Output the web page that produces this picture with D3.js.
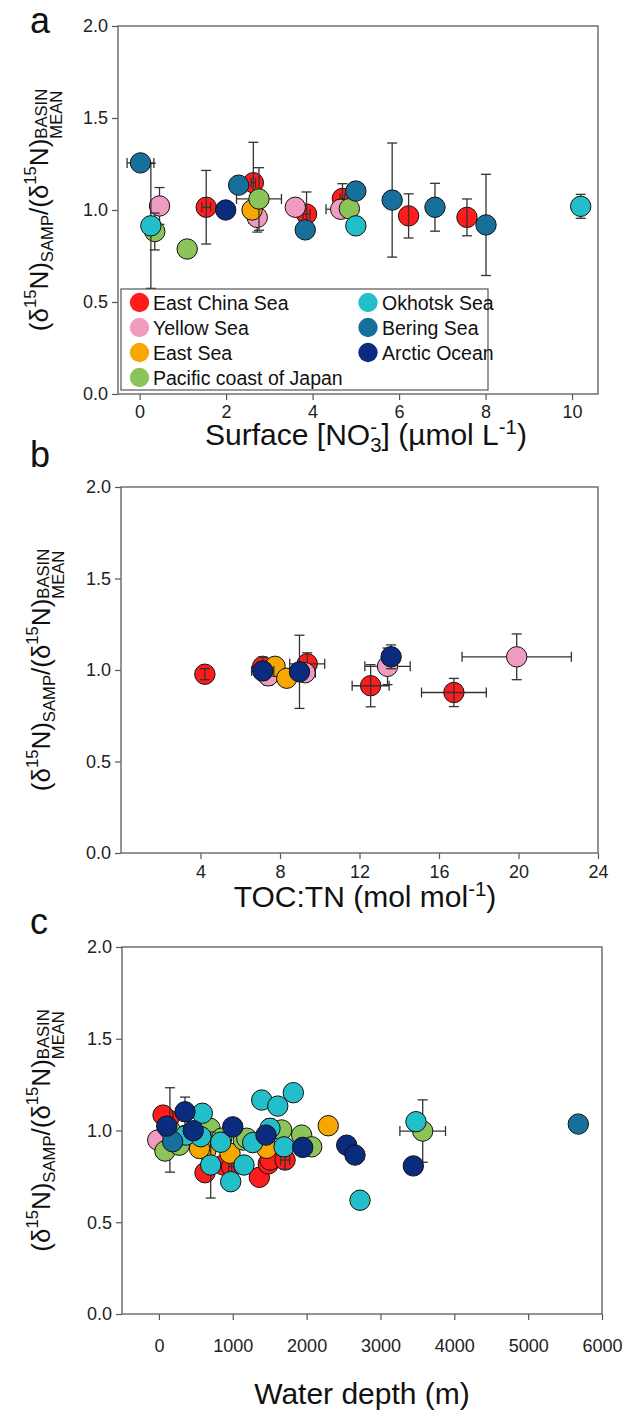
<!DOCTYPE html>
<html><head><meta charset="utf-8">
<script src="https://cdn.jsdelivr.net/npm/d3@7"></script>
<style>body{margin:0;background:#fff} svg{display:block}</style>
</head><body>
<script>
// ---------- DATA ----------
const regions = ["East China Sea","Yellow Sea","East Sea","Pacific coast of Japan","Okhotsk Sea","Bering Sea","Arctic Ocean"];
const regionColors = ["#ff1c1c","#f09bc0","#f8a602","#8cc45a","#22bfcb","#17709c","#0a2b7e"];
const yTicks = [0.0,0.5,1.0,1.5,2.0];

// Panel a: surface nitrate (µmol/L)
const nitrateTicks = [0,2,4,6,8,10];
const aRegion = [5,1,4,3,3,0,6,5,0,3,2,1,1,0,5,0,1,3,5,4,5,0,5,0,5,4];
const aX      = [0.02,0.46,0.26,0.35,1.10,1.54,1.99,2.29,2.63,2.76,2.60,2.72,3.60,3.86,3.83,4.69,4.65,4.85,5.00,5.00,5.84,6.22,6.83,7.57,8.01,10.20];
const aY      = [1.256,1.022,0.914,0.883,0.788,1.015,1.000,1.135,1.148,1.060,1.000,0.960,1.015,0.978,0.892,1.063,1.004,1.007,1.103,0.914,1.054,0.968,1.015,0.960,0.919,1.020];
const aXErr   = [0.31,0,0,0,0,0.10,0,0,0.05,0.52,0,0,0,0.08,0,0.05,0.34,0,0,0,0,0,0.08,0,0,0];
const aYErr   = [0,0.10,0.34,0.10,0,0.20,0,0,0.22,0.17,0,0.08,0,0.12,0,0.08,0,0,0,0,0.31,0.12,0.13,0.10,0.275,0.065];

// Panel b: TOC:TN (mol/mol)
const tocTicks = [4,8,12,16,20,24];
const bRegion = [0,0,1,2,6,2,6,1,0,0,1,6,0,1];
const bX      = [4.22,7.13,7.41,7.75,7.13,8.34,8.98,9.26,9.37,12.56,13.41,13.59,16.75,19.91];
const bY      = [0.977,1.020,0.968,1.020,0.995,0.955,0.990,0.985,1.034,0.914,1.020,1.072,0.877,1.072];
const bXErr   = [0,0,0,0,0.56,0,0,0.52,0.88,0.93,1.14,0,1.63,2.75];
const bYErr   = [0.03,0.05,0.05,0,0.05,0,0.20,0,0.06,0.115,0.10,0.065,0.077,0.125];

// Panel c: water depth (m)
const depthTicks = [0,1000,2000,3000,4000,5000,6000];
const cRegion = [0,0,0,0,0,0,0,0,0,
                 1,
                 2,2,2,2,2,
                 3,3,3,3,3,3,3,3,3,3,3,
                 4,4,4,4,4,4,4,4,4,4,4,4,4,4,4,
                 5,5,
                 6,6,6,6,6,6,6,6,6];
const cX = [127,56,624,872,985,1360,1481,1504,1708,
            -16,
            637,962,1459,2293,550,
            82,276,149,692,850,1143,1189,1662,1933,2069,3572,
            366,588,569,701,837,972,1152,1270,1392,1609,1820,1504,1694,3481,2723,
            186,5679,
            105,353,465,1000,1450,1947,2543,2655,3445];
const cY = [1.058,1.084,0.770,0.812,0.803,0.745,0.818,0.839,0.839,
            0.948,
            0.893,0.876,0.903,1.026,0.902,
            0.888,0.920,1.003,1.012,0.958,0.948,0.958,1.003,0.975,0.911,0.997,
            0.975,1.094,0.966,0.812,0.936,0.721,0.812,0.934,1.166,1.133,1.206,1.012,0.911,1.048,0.620,
            0.939,1.035,
            1.024,1.102,0.999,1.020,0.975,0.908,0.920,0.866,0.807];
const cXErr = [0,0,0,0,41,0,0,0,62,
               0,
               0,0,0,0,0,
               0,0,0,0,0,0,0,0,0,0,309,
               0,0,0,0,0,0,0,0,0,0,0,0,0,0,0,
               0,0,
               0,0,0,0,0,0,0,0,0];
const cYErr = [0,0,0,0,0.05,0,0,0,0.05,
               0,
               0,0,0,0,0,
               0,0,0.23,0,0,0,0,0,0,0,0.17,
               0,0,0,0.18,0,0,0,0,0,0,0,0.05,0,0,0,
               0,0,
               0,0.08,0,0,0,0,0,0,0];

// ---------- DRAWING ----------
const FONT = "'Liberation Sans', Arial, Helvetica, sans-serif";
const W = 637, H = 1414;
const svg = d3.select('body').append('svg').attr('width', W).attr('height', H)
  .style('font-family', FONT);

function rich(parent, parts, size, cx, cy, rot, small, supRaise) {
  const outer = parent.append('g').attr('transform', `translate(${cx},${cy}) rotate(${rot})`);
  const g = outer.append('g').attr('fill', '#111');
  const s = size * (small || 0.64);
  const up = supRaise || 0.45;
  let x = 0;
  parts.forEach(p => {
    if (p.k === 'stack') {
      const a = g.append('text').attr('x', x).attr('y', p.supY * size).attr('font-size', s).text(p.sup);
      const b = g.append('text').attr('x', x).attr('y', p.subY * size).attr('font-size', s).text(p.sub);
      x += Math.max(a.node().getComputedTextLength(), b.node().getComputedTextLength());
    } else {
      const fs = p.k === 'n' ? size : s;
      const y = p.k === 'sup' ? -up * size : p.k === 'sub' ? 0.2 * size : 0;
      const t = g.append('text').attr('x', x).attr('y', y).attr('font-size', fs).text(p.t);
      x += t.node().getComputedTextLength();
    }
  });
  g.attr('transform', `translate(${-x / 2},0)`);
}

const yTitle = [
  {k:'n', t:'(δ'}, {k:'sup', t:'15'}, {k:'n', t:'N)'}, {k:'sub', t:'SAMP'},
  {k:'n', t:'/(δ'}, {k:'sup', t:'15'}, {k:'n', t:'N)'},
  {k:'stack', sup:'BASIN', sub:'MEAN', supY:-0.02, subY:0.52}
];

const panels = [
  {label:'a', left:118, right:598, top:26, bottom:394, xDomain:[-0.5,10.6], xTicks:nitrateTicks,
   reg:aRegion, xs:aX, ys:aY, xe:aXErr, ye:aYErr, xPad:5, labelY:33, yTitleX:48, xTitleY:445, xTitleX:366,
   xTitle:[{k:'n',t:'Surface [NO'},{k:'stack',sup:'-',sub:'3',supY:-0.38,subY:0.22},{k:'n',t:'] (µmol L'},{k:'sup',t:'-1'},{k:'n',t:')'}]},
  {label:'b', left:121, right:598, top:487, bottom:853, xDomain:[0,24], xTicks:tocTicks,
   reg:bRegion, xs:bX, ys:bY, xe:bXErr, ye:bYErr, xPad:6, labelY:467, yTitleX:50, xTitleY:907, xTitleX:365,
   xTitle:[{k:'n',t:'TOC:TN (mol mol'},{k:'sup',t:'-1'},{k:'n',t:')'}]},
  {label:'c', left:122, right:602, top:947, bottom:1314, xDomain:[-500,6000], xTicks:depthTicks,
   reg:cRegion, xs:cX, ys:cY, xe:cXErr, ye:cYErr, xPad:19, labelY:934, yTitleX:50, xTitleY:1404, xTitleX:362,
   xTitle:[{k:'n',t:'Water depth (m)'}]}
];

const R = 10.2, CAP = 5;

panels.forEach(P => {
  const x = d3.scaleLinear().domain(P.xDomain).range([P.left, P.right]);
  const y = d3.scaleLinear().domain([0, 2]).range([P.bottom, P.top]);

  const gx = svg.append('g').attr('transform', `translate(0,${P.bottom})`)
    .call(d3.axisBottom(x).tickValues(P.xTicks).tickFormat(d3.format('d')).tickSize(6).tickSizeOuter(0).tickPadding(P.xPad));
  const gy = svg.append('g').attr('transform', `translate(${P.left},0)`)
    .call(d3.axisLeft(y).tickValues(yTicks).tickFormat(d3.format('.1f')).tickSize(6).tickSizeOuter(0).tickPadding(4));
  [gx, gy].forEach(g => {
    g.select('.domain').remove();
    g.selectAll('.tick line').attr('stroke', '#555').attr('stroke-width', 1.2);
    g.selectAll('.tick text').attr('fill', '#222').attr('font-size', 18).attr('font-family', FONT);
  });
  svg.append('rect').attr('x', P.left).attr('y', P.top)
    .attr('width', P.right - P.left).attr('height', P.bottom - P.top)
    .attr('fill', 'none').attr('stroke', '#666').attr('stroke-width', 1.4);

  const pts = P.reg.map((r, i) => ({r, x: P.xs[i], y: P.ys[i], xe: P.xe[i], ye: P.ye[i]}));
  const plot = svg.append('g');

  function drawErr(g, d) {
    const cx = x(d.x), cy = y(d.y);
    const ln = (x1, y1, x2, y2) => g.append('line').attr('x1', x1).attr('y1', y1).attr('x2', x2).attr('y2', y2)
      .attr('stroke', '#333').attr('stroke-width', 1.3);
    if (d.ye > 0) {
      const y1 = y(d.y + d.ye), y2 = y(d.y - d.ye);
      ln(cx, y1, cx, y2); ln(cx - CAP, y1, cx + CAP, y1); ln(cx - CAP, y2, cx + CAP, y2);
    }
    if (d.xe > 0) {
      const x1 = x(d.x - d.xe), x2 = x(d.x + d.xe);
      ln(x1, cy, x2, cy); ln(x1, cy - CAP, x1, cy + CAP); ln(x2, cy - CAP, x2, cy + CAP);
    }
  }

  d3.range(regions.length).forEach(r => {
    const sub = pts.filter(d => d.r === r);
    const g = plot.append('g');
    const errOnTop = r === 0;
    if (!errOnTop) sub.forEach(d => drawErr(g, d));
    g.selectAll('circle').data(sub).enter().append('circle')
      .attr('cx', d => x(d.x)).attr('cy', d => y(d.y)).attr('r', R)
      .attr('fill', regionColors[r]).attr('stroke', '#111').attr('stroke-width', 1);
    if (errOnTop) sub.forEach(d => drawErr(g, d));
  });

  svg.append('text').attr('x', 30).attr('y', P.labelY).attr('font-size', 36).attr('fill', '#111').text(P.label);
  rich(svg, yTitle, 26, P.yTitleX, (P.top + P.bottom) / 2, -90);
  rich(svg, P.xTitle, 30, P.xTitleX, P.xTitleY, 0, 0.68, 0.38);
});

// legend in panel a
const leg = svg.append('g');
leg.append('rect').attr('x', 121).attr('y', 289).attr('width', 367).attr('height', 101)
  .attr('fill', '#fff').attr('stroke', '#555').attr('stroke-width', 1.2);
const legCols = [{cx:139.5, tx:153}, {cx:368, tx:382}];
const legRows = [302.5, 327.5, 352.5, 377.5];
const legPos = [[0,0],[0,1],[0,2],[0,3],[1,0],[1,1],[1,2]];
regions.forEach((name, i) => {
  const [c, r] = legPos[i];
  leg.append('circle').attr('cx', legCols[c].cx).attr('cy', legRows[r]).attr('r', 9.7).attr('fill', regionColors[i]);
  leg.append('text').attr('x', legCols[c].tx).attr('y', legRows[r] + 7).attr('font-size', 19.5)
    .attr('fill', '#111').text(name);
});
</script>
</body></html>
